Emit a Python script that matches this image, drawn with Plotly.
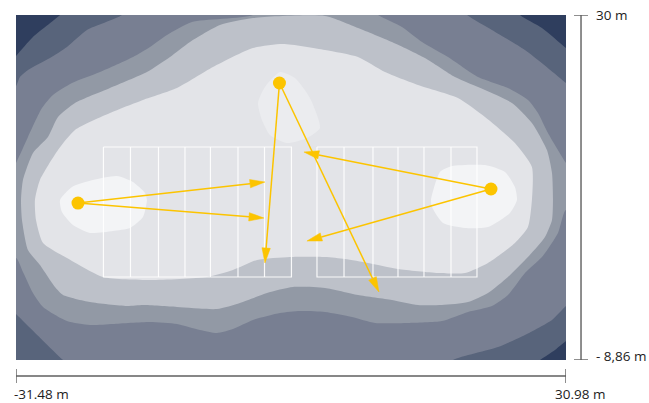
import math
import plotly.graph_objects as go

# Plot extent in metres
X_MIN, X_MAX = -31.48, 30.98
Y_MIN, Y_MAX = -8.86, 30.0

LEVEL_COLORS = ["#58647b", "#787f92", "#9299a5", "#bdc1c9", "#e3e4e8"]
BG_COLOR = "#2f3e5e"
PEAK_COLOR = "#f3f4f6"
PEAK_TOP_COLOR = "#ebecef"
YELLOW = "#fcc400"

l2_x = [-34,-31.48,-29.55,-26.48,-24,24,25.76,28.25,30.98,33.5,33.5,30.98,29.73,28.03,26,-34]
l2_y = [22.5,25.38,27.52,30,32.5,32.5,30,28.54,26.28,24.2,-5,-6.72,-7.73,-8.86,-10.5,-11]

l3_x = [-34,-31.48,-31.03,-30.12,-27.62,-25.69,-23.42,-19.44,-17,17,19.74,22.57,26.32,30.98,33.5,33.5,30.98,29.39,26.32,23.26,18.15,16,-24,-26.14,-31.48,-34]
l3_y = [20,22.0,23.02,23.81,25.16,26.40,28.31,30,32.5,32.5,30,28.31,26.06,22.34,20,-1,-2.78,-4.35,-6.04,-7.40,-8.86,-10.5,-10.5,-8.86,-3.68,-1.3]

l4_x = [-34,-31.48,-30.12,-28.53,-27.28,-25.12,-21.94,-18.19,-16.26,-14.33,-11.50,-4.57,-2,7,9.63,12.35,14.63,17.58,20.98,24.39,26.66,27.80,28.93,30.98,33.5,33.5,30.98,30.07,28.25,26.32,24.39,22.57,19.85,16.89,13.03,9.29,6.68,3.61,0.77,-1.50,-4.57,-6.84,-8.66,-10.59,-13.20,-16.26,-20.47,-23.08,-25.69,-28.41,-29.55,-30.69,-31.48,-34]
l4_y = [9,13.33,16.26,19.52,20.99,22.34,23.58,25.27,26.40,27.75,29.21,30,32,32,30,28.65,26.96,25.27,23.02,21.78,20.43,18.96,16.71,13.33,10,6,8.04,5.45,2.74,0.94,-1.54,-2.78,-3.45,-4.47,-4.69,-4.69,-4.02,-3.45,-3.34,-3.57,-4.35,-5.37,-5.82,-5.48,-4.80,-4.58,-4.80,-4.92,-4.47,-2.89,-1.31,1.05,2.63,0]

l5_x = [-30.91,-30.69,-29.55,-27.85,-26.71,-24.78,-20.81,-16.61,-13.99,-11.72,-8.32,-4.57,3.61,7.36,11.22,14.96,18.37,21.78,24.84,27.11,28.82,29.39,29.50,29.39,28.59,26.66,24.39,22.12,19.85,16.89,14.17,11.22,7.36,3.61,-0.03,-2.98,-6.05,-8.66,-13.20,-17.06,-18.88,-23.08,-26.14,-27.05,-28.76,-30.12,-30.80]
l5_y = [9.16,11.41,14.46,16.26,18.51,20.09,21.78,23.58,25.27,26.96,28.87,29.66,29.89,28.54,26.96,25.16,23.02,21.55,20.09,17.84,14.79,12.20,9.16,6.91,4.99,2.74,0.49,-1.31,-2.33,-2.67,-2.67,-2.10,-1.54,-0.75,-0.64,-1.31,-2.44,-3.12,-2.89,-2.67,-2.78,-2.33,-1.54,-0.64,1.84,3.53,6.91]

l6_x = [-29.33,-28.76,-26.71,-24.78,-20.81,-17.06,-13.20,-9.11,-4.57,-1.16,3.61,7.36,10.42,14.17,18.71,21.78,25.18,27.11,27.11,26.66,25.18,22.12,19.51,16.44,11.90,8.49,5.88,3.61,-0.37,-4.11,-6.84,-9.79,-16.26,-21.60,-25.69,-28.41,-29.21]
l6_y = [9.16,11.41,14.79,17.05,18.96,20.43,21.78,24.14,26.28,26.73,26.06,25.27,23.58,22.12,20.65,18.51,15.58,12.88,9.16,6.12,4.32,2.07,0.94,0.94,1.39,2.07,2.52,2.74,2.74,2.40,1.28,0.49,0.15,0.49,2.63,4.32,6.91]

peak_left_x = [-26.48,-25.12,-22.74,-20.01,-18.20,-16.83,-16.61,-17.06,-18.54,-20.47,-23.08,-25.01,-26.26]
peak_left_y = [9.16,10.63,11.41,11.86,11.19,9.95,9.16,7.25,6.01,5.67,5.45,6.35,7.81]
peak_top_x = [-4.00,-3.21,-1.50,0.20,1.90,3.04,1.56,-0.71,-2.64,-3.55]
peak_top_y = [20.09,21.89,23.58,22.90,20.65,17.27,16.15,15.58,16.48,18.17]
peak_right_x = [15.65,16.67,18.03,21.78,24.05,25.18,25.41,24.62,22.12,19.51,17.01,15.76]
peak_right_y = [9.16,12.32,12.99,13.10,12.32,10.63,9.16,7.70,6.12,6.01,6.57,8.37]

grid_left_x = [-21.55,-18.48,-15.30,-12.29,-9.40,-6.27,-3.26,-0.20]
grid_right_x = [2.70,5.77,9.06,11.90,14.85,17.92,20.87]
grid_top, grid_bottom = 15.13, 0.49

source_x = [-24.44,-1.56,22.46]
source_y = [8.82,22.34,10.40]

arrow_from = [0,0,1,1,2,2]
arrow_to_x = [-3.21,-3.32,-3.21,9.74,1.22,1.56]
arrow_to_y = [11.19,7.13,2.07,-1.20,14.57,4.54]

PLOT_W, PLOT_H = 550, 345
SX = PLOT_W / (X_MAX - X_MIN)
SY = PLOT_H / (Y_MAX - Y_MIN)

fig = go.Figure()


def blob(xs, ys, color):
    fig.add_trace(go.Scatter(
        x=xs + xs[:1], y=ys + ys[:1], mode="lines", fill="toself", fillcolor=color,
        line=dict(width=0, shape="spline", smoothing=0.6, color=color),
        hoverinfo="skip", showlegend=False))


levels = [(l2_x, l2_y), (l3_x, l3_y), (l4_x, l4_y), (l5_x, l5_y), (l6_x, l6_y)]
for (xs, ys), c in zip(levels, LEVEL_COLORS):
    blob(xs, ys, c)
blob(peak_left_x, peak_left_y, PEAK_COLOR)
blob(peak_top_x, peak_top_y, PEAK_TOP_COLOR)
blob(peak_right_x, peak_right_y, PEAK_COLOR)

# Court outlines
for gx in (grid_left_x, grid_right_x):
    xs, ys = [gx[0], gx[-1], gx[-1], gx[0], gx[0]], [grid_top, grid_top, grid_bottom, grid_bottom, grid_top]
    for v in gx[1:-1]:
        xs += [None, v, v]
        ys += [None, grid_top, grid_bottom]
    fig.add_trace(go.Scatter(x=xs, y=ys, mode="lines", line=dict(color="rgba(255,255,255,0.9)", width=1.2),
                             hoverinfo="skip", showlegend=False))

# Aiming arrows with long, narrow filled heads
HEAD_LEN, HEAD_HALF = 15, 4.2
for i, tx, ty in zip(arrow_from, arrow_to_x, arrow_to_y):
    sx0, sy0 = source_x[i], source_y[i]
    dx, dy = (tx - sx0) * SX, (ty - sy0) * SY
    n = math.hypot(dx, dy)
    ux, uy = dx / n, dy / n
    bx, by = tx - ux * HEAD_LEN / SX, ty - uy * HEAD_LEN / SY
    px, py = -uy * HEAD_HALF / SX, ux * HEAD_HALF / SY
    fig.add_trace(go.Scatter(x=[sx0, bx], y=[sy0, by], mode="lines", line=dict(color=YELLOW, width=1.5),
                             hoverinfo="skip", showlegend=False))
    fig.add_trace(go.Scatter(x=[tx, bx + px, bx - px, tx], y=[ty, by + py, by - py, ty], mode="lines",
                             fill="toself", fillcolor=YELLOW, line=dict(color=YELLOW, width=0.5),
                             hoverinfo="skip", showlegend=False))

fig.add_trace(go.Scatter(x=source_x, y=source_y, mode="markers",
                         marker=dict(color=YELLOW, size=13), hoverinfo="skip", showlegend=False))

TXT = dict(family="Open Sans", size=13.5, color="#1c1c1c")
annotations = [
    dict(x=1.0510, y=1.0, xref="paper", yref="paper", text="30 m", showarrow=False, xanchor="left", yanchor="middle", font=TXT),
    dict(x=1.0510, y=0.0115, xref="paper", yref="paper", text="- 8,86 m", showarrow=False, xanchor="left", yanchor="middle", font=TXT),
    dict(x=-0.0075, y=-0.098, xref="paper", yref="paper", text="-31.48 m", showarrow=False, xanchor="left", yanchor="middle", font=TXT),
    dict(x=0.9765, y=-0.098, xref="paper", yref="paper", text="30.98 m", showarrow=False, xanchor="left", yanchor="middle", font=TXT),
]

BAR = dict(color="#5f5f5f", width=1.4)
shapes = [
    dict(type="line", xref="x", yref="paper", x0=X_MIN, x1=X_MAX, y0=-0.0464, y1=-0.0464, line=BAR),
    dict(type="line", xref="x", yref="paper", x0=X_MIN, x1=X_MIN, y0=-0.026, y1=-0.0667, line=BAR),
    dict(type="line", xref="x", yref="paper", x0=X_MAX, x1=X_MAX, y0=-0.026, y1=-0.0667, line=BAR),
    dict(type="line", xref="paper", yref="y", x0=1.0273, x1=1.0273, y0=Y_MIN, y1=Y_MAX, line=BAR),
    dict(type="line", xref="paper", yref="y", x0=1.0145, x1=1.040, y0=Y_MAX, y1=Y_MAX, line=BAR),
    dict(type="line", xref="paper", yref="y", x0=1.0145, x1=1.040, y0=Y_MIN, y1=Y_MIN, line=BAR),
]

fig.update_layout(
    width=649, height=403, autosize=False,
    margin=dict(l=16, r=83, t=15, b=43, pad=0),
    paper_bgcolor="white", plot_bgcolor=BG_COLOR,
    xaxis=dict(range=[X_MIN, X_MAX], visible=False, fixedrange=True),
    yaxis=dict(range=[Y_MIN, Y_MAX], visible=False, fixedrange=True),
    annotations=annotations, shapes=shapes, showlegend=False,
)

fig.write_html("out.html", default_width="649px", default_height="403px",
               config={"displayModeBar": False},
               post_script="document.body.style.margin='0';")
